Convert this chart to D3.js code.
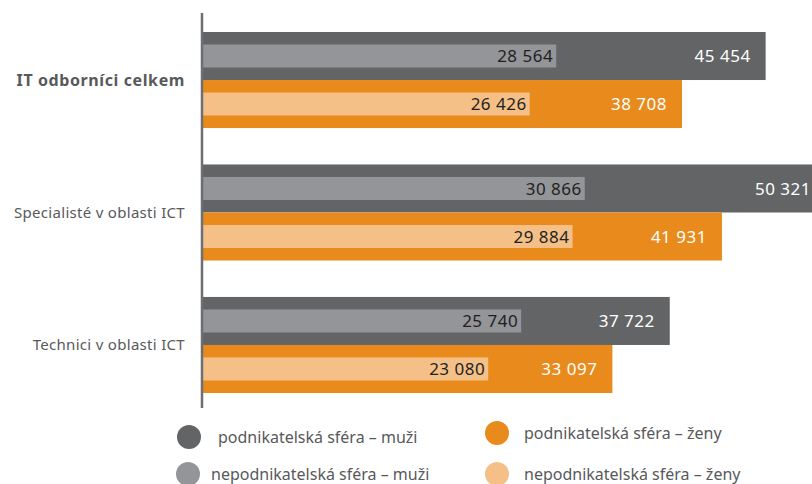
<!DOCTYPE html>
<html lang="cs">
<head>
    <meta charset="UTF-8">
    <title>IT odborníci – mzdy</title>
    <script src="https://d3js.org/d3.v7.min.js"></script>
    <style>
        body { margin: 0; background: #fff; }
        svg { display: block; font-family: "Noto Sans", "DejaVu Sans", sans-serif; }
    </style>
</head>
<body>
<svg id="chart"></svg>
<script>
    // data
    const categories = ["IT odborníci celkem", "Specialisté v oblasti ICT", "Technici v oblasti ICT"];
    const podnMuzi = [45454, 50321, 37722];
    const podnZeny = [38708, 41931, 33097];
    const nepodnMuzi = [28564, 30866, 25740];
    const nepodnZeny = [26426, 29884, 23080];
    const legendLabels = [
        "podnikatelská sféra – muži", "podnikatelská sféra – ženy",
        "nepodnikatelská sféra – muži", "nepodnikatelská sféra – ženy"
    ];

    const colors = {
        podnMuzi: "#636466",
        nepodnMuzi: "#939598",
        podnZeny: "#e98b1c",
        nepodnZeny: "#f5c087"
    };

    const width = 812, height = 484;
    const svg = d3.select("#chart").attr("width", width).attr("height", height);

    const x = d3.scaleLinear().domain([0, 50000]).range([202, 822]);
    const y = d3.scaleBand().domain(categories).range([32, 393]).paddingInner(0.275);
    const sub = d3.scaleBand().domain(["muzi", "zeny"]).range([0, y.bandwidth()]);
    const inset = 12.5;

    const fmt = v => d3.format(",")(v).replace(/,/g, " ");

    const rows = categories.map((c, i) => ({
        cat: c,
        bars: [
            {key: "muzi", big: podnMuzi[i], small: nepodnMuzi[i], bc: colors.podnMuzi, sc: colors.nepodnMuzi},
            {key: "zeny", big: podnZeny[i], small: nepodnZeny[i], bc: colors.podnZeny, sc: colors.nepodnZeny}
        ]
    }));

    const groups = svg.selectAll("g.cat")
        .data(rows)
        .enter()
        .append("g")
        .attr("class", "cat")
        .attr("transform", d => `translate(0, ${y(d.cat)})`);

    const bars = groups.selectAll("g.bar")
        .data(d => d.bars)
        .enter()
        .append("g")
        .attr("transform", d => `translate(0, ${sub(d.key)})`);

    bars.append("rect")
        .attr("x", x(0))
        .attr("y", 0)
        .attr("width", d => x(d.big) - x(0))
        .attr("height", sub.bandwidth())
        .attr("fill", d => d.bc);

    bars.append("rect")
        .attr("x", x(0))
        .attr("y", inset)
        .attr("width", d => x(d.small) - x(0))
        .attr("height", sub.bandwidth() - 2 * inset)
        .attr("fill", d => d.sc);

    bars.append("text")
        .attr("x", d => x(d.big) - 15)
        .attr("y", sub.bandwidth() / 2)
        .attr("dy", "0.36em")
        .attr("text-anchor", "end")
        .attr("fill", "#fff")
        .style("font-size", "17px")
        .style("letter-spacing", "0.5px")
        .text(d => fmt(d.big));

    bars.append("text")
        .attr("x", d => x(d.small) - 3)
        .attr("y", sub.bandwidth() / 2)
        .attr("dy", "0.36em")
        .attr("text-anchor", "end")
        .attr("fill", "#231f20")
        .style("font-size", "17px")
        .style("letter-spacing", "0.5px")
        .text(d => fmt(d.small));

    groups.append("text")
        .attr("x", 185)
        .attr("y", y.bandwidth() / 2)
        .attr("dy", "0.35em")
        .attr("text-anchor", "end")
        .attr("fill", "#58595b")
        .style("font-size", (d, i) => i === 0 ? "16px" : "15px")
        .style("letter-spacing", (d, i) => i === 0 ? "0.6px" : "0.3px")
        .style("font-weight", (d, i) => i === 0 ? "bold" : "normal")
        .text(d => d.cat);

    // vertical axis line
    svg.append("line")
        .attr("x1", x(0)).attr("x2", x(0))
        .attr("y1", 13).attr("y2", 408)
        .attr("stroke", "#6d6e71")
        .attr("stroke-width", 2.5);

    // legend
    const legendColors = [colors.podnMuzi, colors.podnZeny, colors.nepodnMuzi, colors.nepodnZeny];
    const legendPos = [
        {cx: 189, ty: 437, tx: 218},
        {cx: 497, ty: 433, tx: 524},
        {cx: 188, ty: 474, tx: 211},
        {cx: 497, ty: 474, tx: 524}
    ];
    const legend = svg.selectAll("g.legend")
        .data(legendLabels)
        .enter()
        .append("g")
        .attr("class", "legend");

    legend.append("circle")
        .attr("cx", (d, i) => legendPos[i].cx)
        .attr("cy", (d, i) => legendPos[i].ty)
        .attr("r", 12)
        .attr("fill", (d, i) => legendColors[i]);

    legend.append("text")
        .attr("x", (d, i) => legendPos[i].tx)
        .attr("y", (d, i) => legendPos[i].ty)
        .attr("dy", "0.35em")
        .attr("fill", "#58595b")
        .style("font-size", "16px")
        .text(d => d);
</script>
</body>
</html>
